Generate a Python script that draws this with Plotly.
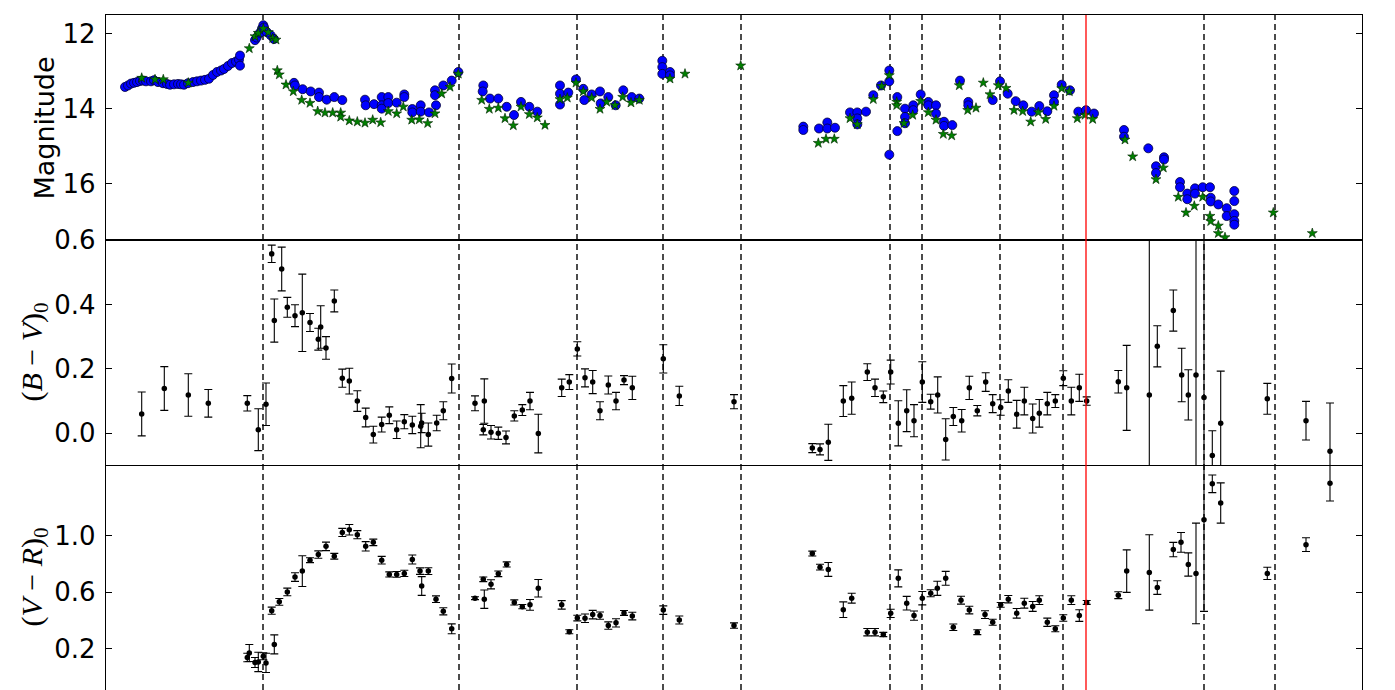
import plotly.graph_objects as go

# ---------------- data (time in days, arbitrary zero) ----------------
# Panel 1: light curves
v_t = [19, 22, 25, 28, 31, 34, 37, 40, 45, 48, 52, 57, 61, 64, 68, 72, 75, 78, 82, 87, 91, 95, 99, 103,
       107, 111, 115, 118, 122, 126, 130, 133, 134, 134,
       149, 150.7, 154, 156, 157.3, 158, 160.7, 164.7, 168,
       188, 189, 196.7, 204.7, 213, 213, 220.7, 228.3, 236.3, 259, 259.7, 268, 275.7, 275.7, 275.7,
       282.3, 282.3, 290.7, 298.3, 298.3, 306.3, 306.3, 314.7, 314.7, 323, 329, 329, 330, 337.3, 345.7, 352.3,
       377.3, 376.7, 384, 392.3, 400.7, 408, 415, 423.3, 431.3,
       454, 454, 454, 462.3, 470, 477.3, 478.3, 485.7, 494, 494.7, 502.3, 509.7, 517.3, 525.7, 533.3,
       556.3, 556.3, 556.3, 564, 564,
       697.3, 697.3, 713, 721.3, 721.3, 729, 744, 751.3, 751.3, 751.3, 760, 767.3, 775, 783.3, 783.3, 783.3,
       791.3, 791.3, 799, 799, 799, 807.3, 807.3, 814.7, 822.3, 822.3, 830, 830, 838, 838, 846.3, 854,
       862.3, 862.3, 886.7, 894, 901.7, 909.7, 917.3, 925.7, 933.3, 941.3, 948, 948, 955.7, 964, 972.3, 980, 988,
       1018, 1018, 1042.3, 1050, 1050, 1058, 1058, 1074, 1074, 1081.3, 1081.3, 1089, 1089, 1096.7, 1104,
       1104.7, 1104.7, 1112.3, 1120.7, 1120.7, 1128.3, 1128.3, 1128.3, 1128.3, 1128.3]
v_mag = [13.42, 13.38, 13.33, 13.31, 13.29, 13.26, 13.25, 13.27, 13.27, 13.24, 13.29, 13.32, 13.34, 13.36,
         13.35, 13.34, 13.35, 13.36, 13.32, 13.29, 13.27, 13.25, 13.23, 13.2, 13.1, 13.02, 12.98, 12.94,
         12.86, 12.78, 12.74, 12.69, 12.58, 12.85,
         12.17, 12.1, 11.97, 11.86, 11.77, 11.83, 11.95, 12.04, 12.14,
         13.31, 13.38, 13.48, 13.54, 13.57, 13.69, 13.76, 13.69, 13.77, 13.76, 13.91, 13.88, 13.69, 13.91, 14.0,
         13.69, 13.85, 13.84, 13.62, 13.69, 14.01, 14.1, 13.91, 14.08, 14.1, 13.51, 13.64, 13.91, 13.38, 13.25, 13.02,
         13.38, 13.54, 13.73, 13.73, 13.95, 14.17, 13.82, 13.95, 14.08,
         13.38, 13.6, 13.89, 13.57, 13.22, 13.47, 13.77, 13.62, 13.54, 13.86, 13.69, 13.91, 13.51, 13.69, 13.73,
         12.72, 12.89, 13.07, 13.02, 13.11,
         14.48, 14.57, 14.53, 14.37, 14.53, 14.51, 14.1, 14.1, 14.26, 14.42, 14.08, 13.64, 13.38, 12.98, 13.27, 15.23,
         13.69, 14.6, 14.0, 14.22, 14.39, 13.91, 14.04, 13.62, 13.82, 13.91, 13.91, 14.13, 14.35, 14.46, 14.44, 13.25,
         13.82, 13.91, 13.77, 13.27, 13.6, 13.8, 13.91, 14.08, 13.93, 14.07, 13.64, 13.82, 13.36, 13.51, 14.08, 14.04, 14.13,
         14.57, 14.75, 15.06, 15.54, 15.72, 15.3, 15.36, 15.96, 16.1, 16.27, 16.42, 16.13, 16.27, 16.1, 16.1,
         16.38, 16.48, 16.56, 16.66, 16.87, 16.2, 16.47, 16.82, 17.0, 17.1]

r_t = [35.7, 49, 57.3, 82.3, 143.3, 149, 152.3, 157.3, 162.3, 166.7, 170, 171.3, 173.3, 180, 187.3, 195.7,
       204, 211.7, 219, 226.7, 234.7, 234.7, 243.3, 251.3, 259, 266.7, 274.7, 282.3, 290.7, 297.3, 305.7,
       313.3, 321.7, 329, 335.7, 344, 352.3,
       375.7, 383.3, 392.3, 399, 407.3, 415, 423.3, 431.3, 439,
       454, 461.3, 470, 477.3, 485.7, 494, 500.7, 509, 516.7, 525, 533.3,
       564, 579, 634.7,
       712.3, 720, 728.3, 744, 751.3, 767.3, 775.7, 783.3, 790.7, 790.7, 798, 806.7, 814.7, 822.3, 830,
       837.3, 845.7, 853.3, 861.7, 870, 877.3, 884, 892.3, 900, 908, 916.7, 924.7, 932.3, 939.7, 948,
       955.7, 963.3, 971.3, 979, 986.7,
       1019, 1026.7, 1050, 1057.3, 1072.3, 1080, 1088.3, 1096.7, 1104, 1104.7, 1112.3, 1112.3, 1119,
       1167.3, 1206.3]
r_mag = [13.18, 13.22, 13.22, 13.31, 12.39, 12.07, 11.98, 11.86, 11.96, 12.12, 12.16, 12.98, 13.09, 13.36,
         13.54, 13.77, 13.85, 14.07, 14.11, 14.11, 14.11, 14.22, 14.32, 14.35, 14.38, 14.3, 14.37, 14.07,
         14.13, 13.95, 14.3, 14.29, 14.39, 14.13, 13.6, 13.42, 13.07,
         13.77, 14.01, 13.98, 14.26, 14.45, 13.95, 14.15, 14.24, 14.44,
         13.75, 13.71, 13.31, 13.54, 13.71, 14.01, 13.82, 13.91, 13.69, 13.84, 13.77,
         13.2, 13.07, 12.85,
         14.92, 14.81, 14.81, 14.26, 14.42, 13.75, 13.4, 13.11, 13.82, 13.91, 14.39, 14.17, 13.8, 14.1, 14.3,
         14.68, 14.72, 13.38, 14.04, 13.98, 13.31, 13.62, 13.38, 13.45, 14.04, 14.07, 14.35, 14.1, 14.28, 13.93,
         13.46, 13.54, 14.26, 14.17, 14.28,
         14.83, 15.28, 15.89, 15.58, 16.36, 16.78, 16.6, 16.36, 16.87, 17.01, 17.13, 17.33, 17.44,
         16.78, 17.33]

# Panel 2: (B-V)_0
bv_t = [35.7, 58.3, 82.3, 102.3, 141.3, 152.3, 160, 165.7, 168.3, 175.7, 181.3, 189, 196.3, 204, 212.3,
        214.7, 220, 228.3, 236.3, 243.3, 251.3, 259.7, 267.3, 275.7, 283.3, 290.7, 298.3, 306.3, 314.7,
        315.7, 322.3, 330.7, 337.3, 345.7,
        369, 378.3, 377.3, 385, 392.3, 400, 408.3, 416.3, 424, 432.3,
        455.7, 463.3, 471.3, 479, 486.7, 494, 502.3, 510, 518, 526.3, 557.3, 573.3, 628,
        706.3, 714, 722.3, 737.3, 745.7, 761.3, 769, 777.3, 784.7, 792.3, 800.7, 808, 816.3, 824.7, 831.7,
        839.7, 847.3, 855.7, 863.3, 871.3, 879.7, 886.7, 894.7, 902.3, 910.7, 918.3, 926.7, 933.3, 941.3,
        949.3, 957.3, 965.3, 973.3, 980.7,
        1012.3, 1020.7, 1043.3, 1051.3, 1067.3, 1075.7, 1082.3, 1090, 1098, 1106.3, 1114.7, 1161.3, 1200, 1224]
bv_val = [0.06, 0.139, 0.119, 0.093, 0.093, 0.011, 0.09, 0.557, 0.35, 0.51, 0.391, 0.365, 0.374, 0.344, 0.292,
          0.33, 0.265, 0.411, 0.171, 0.162, 0.1, 0.049, -0.004, 0.027, 0.056, 0.011, 0.036, 0.026, 0.022,
          0.032, -0.004, 0.032, 0.07, 0.17,
          0.093, 0.1, 0.011, 0.003, 0.0, -0.013, 0.054, 0.072, 0.1, -0.001,
          0.141, 0.159, 0.262, 0.172, 0.159, 0.07, 0.15, 0.1, 0.165, 0.141, 0.231, 0.116, 0.098,
          -0.046, -0.05, -0.028, 0.1, 0.109, 0.19, 0.141, 0.113, 0.19, 0.031, 0.07, 0.039, 0.159, 0.098, 0.119,
          -0.019, 0.052, 0.039, 0.141, 0.07, 0.159, 0.092, 0.08, 0.131, 0.059, 0.1, 0.046, 0.062, 0.092,
          0.1, 0.171, 0.1, 0.141, 0.1,
          0.16, 0.141, 0.119, 0.27, 0.381, 0.181, 0.119, 0.181, 0.111, -0.069, 0.031, 0.107, 0.039, -0.056]
bv_err = [0.068, 0.068, 0.066, 0.043, 0.024, 0.065, 0.066, 0.027, 0.067, 0.068, 0.031, 0.034, 0.12, 0.028, 0.034,
          0.066, 0.035, 0.034, 0.028, 0.04, 0.032, 0.029, 0.026, 0.023, 0.026, 0.027, 0.022, 0.027, 0.067,
          0.03, 0.036, 0.024, 0.028, 0.045,
          0.023, 0.069, 0.016, 0.021, 0.019, 0.02, 0.016, 0.017, 0.027, 0.06,
          0.027, 0.023, 0.022, 0.028, 0.036, 0.028, 0.028, 0.027, 0.014, 0.036, 0.044, 0.03, 0.022,
          0.014, 0.017, 0.056, 0.048, 0.05, 0.026, 0.027, 0.018, 0.037, 0.07, 0.065, 0.05, 0.063, 0.023, 0.056,
          0.064, 0.028, 0.035, 0.036, 0.016, 0.029, 0.028, 0.024, 0.035, 0.043, 0.043, 0.045, 0.043, 0.035,
          0.02, 0.023, 0.043, 0.042, 0.013,
          0.035, 0.132, 1.0, 0.064, 0.064, 0.083, 0.078, 1.0, 1.0, 0.077, 0.162, 0.048, 0.06, 0.15]

# Panel 3: (V-R)_0
vr_t = [141.3, 143.3, 149, 152.3, 157.3, 160, 168.3, 165.7, 173.3, 181.3, 189, 196.3, 204, 212.3, 220, 228.3,
        236.3, 243.3, 251.3, 259.7, 267.3, 275.7, 283.3, 290.7, 298.3, 306.3, 314, 315.7, 322.3, 330, 337.3, 345.7,
        369, 378.3, 377.3, 385, 392.3, 400.7, 408.3, 416.3, 424, 432.3,
        455.7, 463.3, 471.3, 479, 486.7, 494, 502.3, 510, 518, 526.3, 557.3, 573.3, 628,
        706.3, 714, 722.3, 737.3, 745.7, 761.3, 769, 777.3, 784.7, 792.3, 800.7, 808, 816.3, 824.7, 831.3,
        839.7, 847.3, 855, 863.3, 871.3, 879, 886.7, 894.7, 902.3, 910.7, 918.3, 926.7, 933.3, 941.3, 949.3,
        957.3, 965.3, 973.3, 980.7,
        1012.3, 1020.7, 1043.3, 1051.3, 1067.3, 1075, 1082.3, 1090, 1098, 1106.3, 1114.7, 1161.3, 1200, 1224]
vr_val = [0.138, 0.17, 0.103, 0.107, 0.147, 0.1, 0.231, 0.469, 0.531, 0.601, 0.706, 0.748, 0.825, 0.865, 0.923,
          0.853, 1.021, 1.04, 1.005, 0.923, 0.951, 0.825, 0.725, 0.725, 0.732, 0.83, 0.748, 0.643, 0.748, 0.55,
          0.464, 0.341,
          0.557, 0.55, 0.69, 0.655, 0.729, 0.795, 0.527, 0.497, 0.51, 0.627,
          0.51, 0.32, 0.417, 0.415, 0.441, 0.434, 0.364, 0.383, 0.453, 0.431, 0.473, 0.403, 0.364,
          0.872, 0.776, 0.76, 0.476, 0.557, 0.317, 0.317, 0.301, 0.45, 0.697, 0.522, 0.434, 0.557, 0.592, 0.627,
          0.697, 0.352, 0.543, 0.473, 0.317, 0.441, 0.387, 0.51, 0.55, 0.45, 0.522, 0.499, 0.543, 0.387, 0.341,
          0.417, 0.543, 0.434, 0.527,
          0.578, 0.748, 0.739, 0.632, 0.9, 0.951, 0.795, 0.732, 1.11, 1.364, 1.229, 0.732, 0.935, 1.369]
vr_err = [0.03, 0.06, 0.035, 0.068, 0.025, 0.068, 0.067, 0.025, 0.024, 0.027, 0.03, 0.108, 0.017, 0.026, 0.03,
          0.02, 0.029, 0.037, 0.029, 0.033, 0.023, 0.027, 0.018, 0.02, 0.022, 0.032, 0.023, 0.066, 0.024, 0.023,
          0.025, 0.035,
          0.01, 0.065, 0.016, 0.032, 0.02, 0.018, 0.018, 0.015, 0.038, 0.062,
          0.03, 0.014, 0.02, 0.03, 0.03, 0.026, 0.026, 0.029, 0.017, 0.027, 0.03, 0.028, 0.019,
          0.017, 0.02, 0.049, 0.055, 0.035, 0.026, 0.026, 0.015, 0.029, 0.06, 0.048, 0.033, 0.047, 0.025, 0.05,
          0.049, 0.023, 0.028, 0.027, 0.017, 0.027, 0.021, 0.017, 0.026, 0.034, 0.035, 0.035, 0.031, 0.029, 0.021,
          0.023, 0.031, 0.041, 0.014,
          0.024, 0.15, 0.266, 0.048, 0.051, 0.07, 0.082, 0.355, 0.646, 0.062, 0.142, 0.043, 0.049, 0.126]

# Epochs marked by vertical lines
event_t = [157, 353, 471, 557, 635, 784, 816, 894, 957, 1098, 1169]
special_t = [980]

# Axis ticks
mag_ticks = [12, 14, 16]
bv_ticks = [0.0, 0.2, 0.4, 0.6]
vr_ticks = [0.2, 0.6, 1.0]

# ---------------- figure ----------------
W, H = 1395, 690
fig = go.Figure()

fig.add_trace(go.Scatter(x=v_t, y=v_mag, mode="markers", xaxis="x", yaxis="y",
                         marker=dict(symbol="circle", size=9, color="#0000ff",
                                     line=dict(color="#000033", width=0.8)), showlegend=False))
fig.add_trace(go.Scatter(x=r_t, y=r_mag, mode="markers", xaxis="x", yaxis="y",
                         marker=dict(symbol="star", size=7.5, color="#008000",
                                     line=dict(color="#002200", width=0.6)), showlegend=False))

errstyle = dict(type="data", visible=True, color="black", thickness=1.1, width=4)
fig.add_trace(go.Scatter(x=bv_t, y=bv_val, mode="markers", xaxis="x2", yaxis="y2",
                         error_y=dict(array=bv_err, **errstyle),
                         marker=dict(size=5.5, color="black"), showlegend=False))
fig.add_trace(go.Scatter(x=vr_t, y=vr_val, mode="markers", xaxis="x3", yaxis="y3",
                         error_y=dict(array=vr_err, **errstyle),
                         marker=dict(size=5.5, color="black"), showlegend=False))

shapes = []
for t in event_t:
    shapes.append(dict(type="line", xref="x", yref="paper", x0=t, x1=t, y0=0, y1=1,
                       line=dict(color="#111111", width=1.5, dash="6px,4px"), layer="below"))
for t in special_t:
    shapes.append(dict(type="line", xref="x", yref="paper", x0=t, x1=t, y0=0, y1=1,
                       line=dict(color="red", width=1.3), layer="above"))

xr = [0, 1256]
tickfont = dict(family="DejaVu Sans", size=26, color="black")
common_x = dict(range=xr, showgrid=False, zeroline=False, showticklabels=False, ticks="")
common_y = dict(showgrid=False, zeroline=False, showline=True, linecolor="black", linewidth=1.3,
                mirror="ticks", ticks="inside", ticklen=6, tickwidth=1, tickcolor="black",
                tickfont=tickfont, ticklabelstandoff=4)

third = 1 / 3
fig.update_layout(
    width=W, height=H,
    margin=dict(l=106, r=33, t=9, b=0),
    plot_bgcolor="white", paper_bgcolor="white",
    xaxis=dict(domain=[0, 1], anchor="y", showline=True, mirror=True, linecolor="black", linewidth=1.3, **common_x),
    xaxis2=dict(domain=[0, 1], anchor="y2", matches="x", showline=True, mirror=True, linecolor="black",
                linewidth=1.3, **common_x),
    xaxis3=dict(domain=[0, 1], anchor="y3", matches="x", showline=False, **common_x),
    yaxis=dict(domain=[2 * third, 1], anchor="x", range=[17.51, 11.497], tickvals=mag_ticks,
               ticktext=[str(v) for v in mag_ticks], **common_y),
    yaxis2=dict(domain=[third, 2 * third], anchor="x2", range=[-0.0985, 0.6], tickvals=bv_ticks,
                ticktext=["%.1f" % v for v in bv_ticks], **common_y),
    yaxis3=dict(domain=[0, third], anchor="x3", range=[-0.091, 1.497], tickvals=vr_ticks,
                ticktext=["%.1f" % v for v in vr_ticks], **common_y),
    shapes=shapes,
    annotations=[
        dict(text="Magnitude", xref="paper", yref="paper", x=(44 - 106) / 1256, y=5 / 6,
             xanchor="center", yanchor="middle", textangle=-90, showarrow=False,
             font=dict(family="DejaVu Sans", size=27, color="black")),
        dict(text="(<i>B</i> − <i>V</i>)<sub>0</sub>", xref="paper", yref="paper", x=(33 - 106) / 1256, y=0.5,
             xanchor="center", yanchor="middle", textangle=-90, showarrow=False,
             font=dict(family="Liberation Serif", size=30, color="black")),
        dict(text="(<i>V</i> − <i>R</i>)<sub>0</sub>", xref="paper", yref="paper", x=(33 - 106) / 1256, y=1 / 6,
             xanchor="center", yanchor="middle", textangle=-90, showarrow=False,
             font=dict(family="Liberation Serif", size=30, color="black")),
    ],
)

fig.write_html("out.html", config={"displayModeBar": False},
               post_script="document.body.style.margin='0';document.body.style.padding='0';"
                           "document.body.style.overflow='hidden';")
